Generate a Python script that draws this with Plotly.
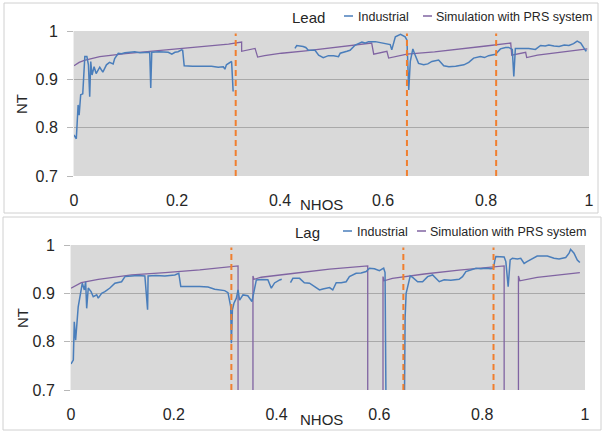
import plotly.graph_objects as go

W, H = 603, 432

# ---------------- DATA ----------------
x_ticks = [0, 0.2, 0.4, 0.6, 0.8, 1.0]
x_tick_labels = ["0", "0.2", "0.4", "0.6", "0.8", "1"]
y_ticks = [0.7, 0.8, 0.9, 1.0]
y_tick_labels = ["0.7", "0.8", "0.9", "1"]

# Lead panel — Industrial
lead_ind_x = [0.000, 0.0045, 0.008, 0.010, 0.013, 0.017, 0.021, 0.025, 0.028, 0.0305, 0.0325, 0.035,
              0.039, 0.043, 0.050, 0.056, 0.063, 0.069, 0.076, 0.079, 0.086, 0.092, 0.099, 0.108, 0.118,
              0.128, 0.1375, 0.147, 0.149, 0.151, 0.165, 0.183, 0.190, 0.196, 0.202, 0.209, 0.211, 0.214,
              0.230, 0.251, 0.267, 0.280, 0.290, 0.293, 0.296, 0.306, 0.309,
              None,
              0.429, 0.4325, 0.445, 0.450, 0.455, 0.468, 0.475, 0.484, 0.494, 0.504, 0.5136, 0.517,
              0.530, 0.536, 0.546, 0.559, 0.565, 0.572, 0.585, 0.591, 0.598, 0.608, 0.614, 0.617, 0.619,
              0.624, 0.634, 0.643, 0.6465, 0.650, 0.653, 0.658, 0.661, 0.669, 0.679, 0.687, 0.695, 0.708,
              0.718, 0.728, 0.741, 0.757, 0.7665, 0.776, 0.789, 0.797, 0.805, 0.8185, 0.828, 0.838, 0.844,
              0.851, 0.854, 0.857, 0.864, 0.877, 0.883, 0.896, 0.906, 0.915, 0.922, 0.932, 0.942, 0.952,
              0.961, 0.970, 0.977, 0.984, 0.9936, 0.9955]
lead_ind_y = [0.785, 0.777, 0.847, 0.826, 0.868, 0.870, 0.947, 0.947, 0.930, 0.864, 0.937, 0.909,
              0.926, 0.912, 0.925, 0.915, 0.930, 0.935, 0.932, 0.943, 0.954, 0.953, 0.955, 0.956, 0.957,
              0.955, 0.956, 0.956, 0.882, 0.956, 0.957, 0.956, 0.952, 0.956, 0.957, 0.961, 0.960, 0.928,
              0.927, 0.927, 0.927, 0.925, 0.926, 0.921, 0.930, 0.937, 0.875,
              None,
              0.964, 0.970, 0.968, 0.966, 0.960, 0.960, 0.950, 0.945, 0.949, 0.949, 0.947, 0.954,
              0.958, 0.960, 0.971, 0.977, 0.975, 0.978, 0.978, 0.977, 0.975, 0.974, 0.972, 0.961, 0.970,
              0.988, 0.993, 0.988, 0.981, 0.878, 0.937, 0.963, 0.954, 0.933, 0.930, 0.932, 0.937, 0.940,
              0.928, 0.926, 0.927, 0.930, 0.935, 0.944, 0.947, 0.945, 0.949, 0.952, 0.963, 0.966, 0.966,
              0.962, 0.906, 0.964, 0.964, 0.965, 0.964, 0.962, 0.970, 0.969, 0.971, 0.969, 0.968, 0.971,
              0.970, 0.974, 0.979, 0.975, 0.959, 0.960]

# Lead panel — Simulation with PRS system
lead_sim_x = [0.000, 0.010, 0.020, 0.050, 0.100, 0.150, 0.200, 0.250, 0.300, 0.3255, 0.3255, 0.3516,
              0.3566, 0.370, 0.403, 0.450, 0.500, 0.578, 0.582, 0.6076, 0.611, 0.630, 0.6465, 0.700,
              0.757, 0.800, 0.848, 0.850, 0.877, 0.879, 0.900, 0.950, 0.9967]
lead_sim_y = [0.928, 0.935, 0.939, 0.947, 0.953, 0.958, 0.962, 0.967, 0.973, 0.977, 0.958, 0.964,
              0.946, 0.949, 0.954, 0.959, 0.965, 0.975, 0.952, 0.958, 0.944, 0.949, 0.952, 0.957,
              0.963, 0.969, 0.975, 0.950, 0.956, 0.945, 0.950, 0.957, 0.963]

lead_markers = [0.314, 0.6465, 0.8197]

# Lag panel — Industrial (values below 0.7 run off the axis)
lag_ind_x = [0.000, 0.0045, 0.0064, 0.009, 0.014, 0.0194, 0.022, 0.026, 0.0285, 0.0305, 0.0336, 0.039,
             0.0433, 0.050, 0.053, 0.0596, 0.066, 0.0757, 0.0854, 0.0984, 0.105, 0.118, 0.130, 0.1437,
             0.149, 0.150, 0.165, 0.1825, 0.202, 0.2097, 0.2136, 0.2505, 0.2666, 0.2796, 0.299, 0.3054,
             0.3087, 0.3107, 0.312, 0.314, 0.317, 0.3217, 0.325, 0.328, 0.3346, 0.344, 0.352, 0.356,
             0.3606, 0.370, 0.383, 0.3897, 0.396, 0.406, 0.410,
             None,
             0.427, 0.4317, 0.4447, 0.454, 0.464, 0.474, 0.4835, 0.490, 0.503, 0.5093, 0.516, 0.5256,
             0.5353, 0.5417, 0.5547, 0.5645, 0.5742, 0.5806, 0.5903, 0.600, 0.6083, 0.611, 0.613,
             0.6485, 0.6487, 0.650, 0.652, 0.6583, 0.660, 0.6647, 0.6744, 0.684, 0.6938, 0.7035, 0.710,
             0.7165, 0.726, 0.739, 0.755, 0.7617, 0.7683, 0.778, 0.7878, 0.7975, 0.807, 0.817, 0.822,
             0.8247, 0.8266, 0.8427, 0.846, 0.8505, 0.8544, 0.8588, 0.8685, 0.875, 0.8816, 0.888, 0.907,
             0.9268, 0.9398, 0.9495, 0.9625, 0.969, 0.972, 0.9786, 0.985, 0.990]
lag_ind_y = [0.754, 0.762, 0.841, 0.803, 0.872, 0.911, 0.921, 0.907, 0.924, 0.869, 0.911, 0.9035,
             0.893, 0.897, 0.890, 0.900, 0.9035, 0.911, 0.921, 0.924, 0.9346, 0.936, 0.937, 0.936,
             0.866, 0.936, 0.937, 0.936, 0.938, 0.9415, 0.914, 0.914, 0.913, 0.9085, 0.9056, 0.9015,
             0.883, 0.8725, 0.797, 0.866, 0.8795, 0.890, 0.907, 0.886, 0.8967, 0.895, 0.883, 0.907,
             0.9277, 0.9285, 0.928, 0.9106, 0.9215, 0.9277, 0.929,
             None,
             0.922, 0.931, 0.931, 0.922, 0.921, 0.914, 0.907, 0.909, 0.912, 0.907, 0.922, 0.922,
             0.924, 0.9346, 0.9415, 0.942, 0.945, 0.952, 0.951, 0.947, 0.952, 0.943, 0.650,
             0.650, 0.750, 0.850, 0.900, 0.931, 0.936, 0.933, 0.924, 0.924, 0.9346, 0.938, 0.930,
             0.924, 0.928, 0.927, 0.929, 0.9346, 0.945, 0.948, 0.952, 0.951, 0.952, 0.951, 0.952,
             0.969, 0.976, 0.975, 0.9657, 0.914, 0.969, 0.9726, 0.971, 0.9726, 0.962, 0.966, 0.977,
             0.977, 0.9726, 0.971, 0.974, 0.983, 0.991, 0.983, 0.969, 0.9636]

# Lag panel — Simulation with PRS system
lag_sim_x = [0.000, 0.020, 0.053, 0.118, 0.183, 0.2505, 0.325, 0.325, 0.354, 0.354, 0.356, 0.370,
             0.435, 0.503, 0.5773, 0.5773, 0.607, 0.607, 0.6094, 0.6253, 0.6874, 0.755, 0.8427, 0.8427,
             0.8705, 0.8705, 0.8732, 0.907, 0.990]
lag_sim_y = [0.9106, 0.922, 0.929, 0.938, 0.943, 0.9485, 0.9567, 0.650, 0.650, 0.936, 0.929, 0.9333,
             0.9415, 0.950, 0.9567, 0.650, 0.650, 0.9346, 0.926, 0.931, 0.940, 0.948, 0.9567, 0.650,
             0.650, 0.936, 0.926, 0.933, 0.9428]

lag_markers = [0.312, 0.6466, 0.822]

panel_titles = ["Lead", "Lag"]
series_names = ["Industrial", "Simulation with PRS system"]

# ---------------- STYLE ----------------
BLUE = "#4a7ebb"
PURPLE = "#8064a2"
ORANGE = "#f07f2f"
FONT = "Liberation Sans"
TXT = "#262626"


def px_x(p):
    return p / W


def px_y(p):
    return 1 - p / H


fig = go.Figure()

panels = [
    dict(xa="x", ya="y", ind=(lead_ind_x, lead_ind_y), sim=(lead_sim_x, lead_sim_y),
         markers=lead_markers),
    dict(xa="x2", ya="y2", ind=(lag_ind_x, lag_ind_y), sim=(lag_sim_x, lag_sim_y),
         markers=lag_markers),
]

for p in panels:
    fig.add_trace(go.Scatter(x=p["sim"][0], y=p["sim"][1], mode="lines", name=series_names[1],
                             line=dict(color=PURPLE, width=1.3), xaxis=p["xa"], yaxis=p["ya"],
                             showlegend=False, connectgaps=False))
    fig.add_trace(go.Scatter(x=p["ind"][0], y=p["ind"][1], mode="lines", name=series_names[0],
                             line=dict(color=BLUE, width=1.5), xaxis=p["xa"], yaxis=p["ya"],
                             showlegend=False, connectgaps=False))
    for m in p["markers"]:
        fig.add_shape(type="line", xref=p["xa"], yref=p["ya"], x0=m, x1=m, y0=0.7, y1=0.995,
                      line=dict(color=ORANGE, width=2, dash="6px,4px"), layer="above")

axis_common = dict(range=[0, 1], tickvals=x_ticks, ticktext=x_tick_labels, showgrid=False,
                   zeroline=False, ticks="", tickfont=dict(family=FONT, size=16, color=TXT),
                   ticklabelstandoff=13, showline=False, automargin=False)
yaxis_common = dict(range=[0.7, 1.0], tickvals=y_ticks, ticktext=y_tick_labels, showgrid=True,
                    gridcolor="#a9a9a9", gridwidth=1, zeroline=False, ticks="outside", ticklen=6,
                    tickcolor="#b8b8b8", tickfont=dict(family=FONT, size=16, color=TXT),
                    ticklabelstandoff=6, showline=True, linecolor="#eeeeee", linewidth=1,
                    automargin=False)

fig.update_layout(
    template="none",
    width=W, height=H, margin=dict(l=0, r=0, t=0, b=0, pad=0, autoexpand=False),
    paper_bgcolor="white", plot_bgcolor="#d9d9d9", showlegend=False,
    xaxis=dict(axis_common, domain=[px_x(74), px_x(589)], anchor="y"),
    yaxis=dict(yaxis_common, domain=[px_y(176), px_y(31)], anchor="x"),
    xaxis2=dict(axis_common, domain=[px_x(71), px_x(585)], anchor="y2"),
    yaxis2=dict(yaxis_common, domain=[px_y(390), px_y(245)], anchor="x2"),
)

# panel borders
for (x0, y0, x1, y1) in [(4, 3, 598, 213), (3, 217, 601, 430)]:
    fig.add_shape(type="rect", xref="paper", yref="paper", x0=px_x(x0), x1=px_x(x1),
                  y0=px_y(y1), y1=px_y(y0), line=dict(color="#d0d0d0", width=1), layer="below")

# titles, legends, axis titles
legend_rows = [
    dict(title=panel_titles[0], tx=290, ty=17, l1=(344, 353), t1=356, l2=(423, 432), t2=434),
    dict(title=panel_titles[1], tx=293, ty=232, l1=(343, 352), t1=355, l2=(417, 426), t2=428),
]
for r in legend_rows:
    fig.add_annotation(xref="paper", yref="paper", x=px_x(r["tx"]), y=px_y(r["ty"]),
                       text=r["title"], showarrow=False, xanchor="left", yanchor="middle",
                       font=dict(family=FONT, size=15, color=TXT))
    for (lx, tx, col, name) in [(r["l1"], r["t1"], BLUE, series_names[0]),
                                (r["l2"], r["t2"], PURPLE, series_names[1])]:
        fig.add_shape(type="line", xref="paper", yref="paper", x0=px_x(lx[0]), x1=px_x(lx[1]),
                      y0=px_y(r["ty"] - 1), y1=px_y(r["ty"] - 1), line=dict(color=col, width=1.5))
        fig.add_annotation(xref="paper", yref="paper", x=px_x(tx), y=px_y(r["ty"]),
                           text=name, showarrow=False, xanchor="left", yanchor="middle",
                           font=dict(family=FONT, size=12.5, color=TXT))

for (nx, ny, hx, hy) in [(22, 104, 321, 204), (22, 318, 321, 419)]:
    fig.add_annotation(xref="paper", yref="paper", x=px_x(nx), y=px_y(ny), text="NT",
                       showarrow=False, textangle=-90, xanchor="center", yanchor="middle",
                       font=dict(family=FONT, size=15, color=TXT))
    fig.add_annotation(xref="paper", yref="paper", x=px_x(hx), y=px_y(hy), text="NHOS",
                       showarrow=False, xanchor="center", yanchor="middle",
                       font=dict(family=FONT, size=15, color=TXT))

fig.write_html("out.html", config={"displayModeBar": False},
               post_script="document.body.style.margin='0';document.body.style.overflow='hidden';")
